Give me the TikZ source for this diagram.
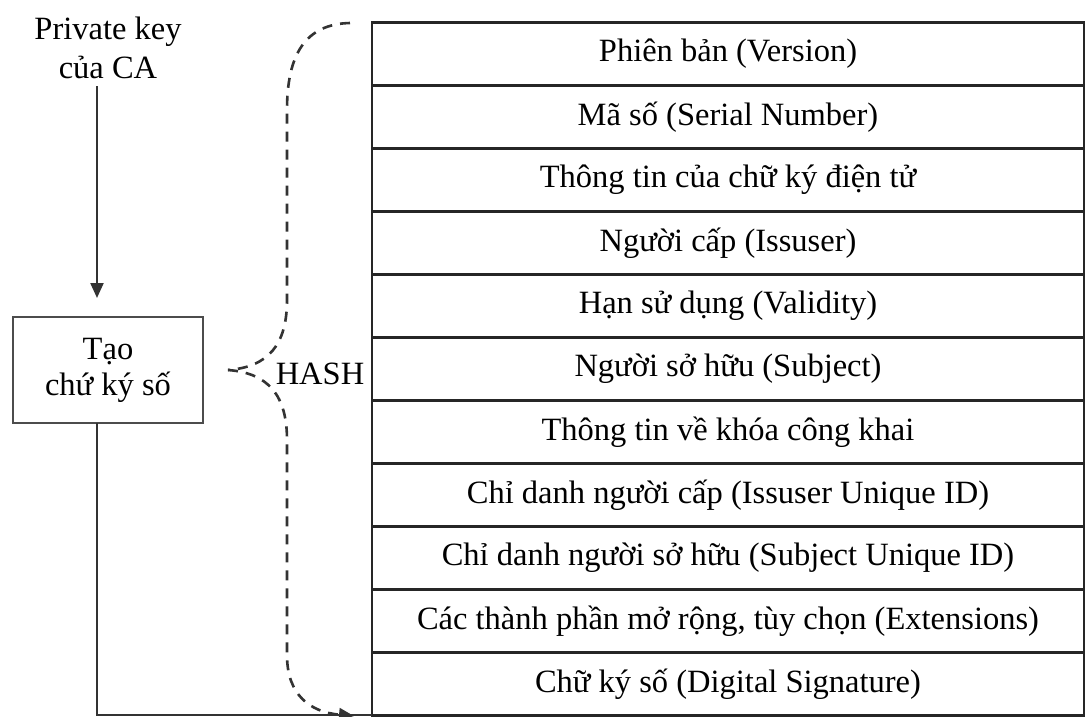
\documentclass[tikz,border=0pt]{standalone}
\usepackage{fontspec}
\setmainfont{Liberation Serif}
\usetikzlibrary{arrows.meta}
\begin{document}
\begin{tikzpicture}[x=1pt,y=-1pt,
  every node/.style={font=\fontsize{32.5}{39}\selectfont, text=black},
  rowbox/.style={draw=black!85, line width=2.4pt, minimum width=712pt, minimum height=63pt, inner sep=0pt, anchor=center},
  stepbox/.style={draw=black!70, line width=2.2pt, minimum width=190pt, minimum height=106pt, align=center, inner sep=0pt, font=\fontsize{32.5}{36}\selectfont},
  plain/.style={draw=none, align=center, inner sep=0pt},
  solidline/.style={draw=black!80, line width=2.2pt},
  tipstyle/.style={-{Triangle[length=15pt,width=13pt]}},
  bracestyle/.style={draw=black!80, line width=2.6pt, dash pattern=on 10pt off 8pt}
]
\useasboundingbox (0,0) rectangle (1087,716);
\fill[white] (0,0) rectangle (1087,716);

% table rows
\node[rowbox] (r1)  at (728,54)  {Phiên bản (Version)};
\node[rowbox] (r2)  at (728,117) {Mã số (Serial Number)};
\node[rowbox] (r3)  at (728,180) {Thông tin của chữ ký điện tử};
\node[rowbox] (r4)  at (728,243) {Người cấp (Issuser)};
\node[rowbox] (r5)  at (728,306) {Hạn sử dụng (Validity)};
\node[rowbox] (r6)  at (728,369) {Người sở hữu (Subject)};
\node[rowbox] (r7)  at (728,432) {Thông tin về khóa công khai};
\node[rowbox] (r8)  at (728,495) {Chỉ danh người cấp (Issuser Unique ID)};
\node[rowbox] (r9)  at (728,558) {Chỉ danh người sở hữu (Subject Unique ID)};
\node[rowbox] (r10) at (728,621) {Các thành phần mở rộng, tùy chọn (Extensions)};
\node[rowbox] (r11) at (728,684) {Chữ ký số (Digital Signature)};

% left side
\node[plain] (key) at (108,48) {Private key\\của CA};
\node[stepbox] (sign) at (108,370) {Tạo\\chứ ký số};
\node[plain] (hash) at (320,374) {HASH};

\coordinate (keyb) at (97,86);
\coordinate (signt) at (97,298);
\coordinate (signb) at (97,423);
\coordinate (corner) at (97,715);
\coordinate (tabbl) at (372,715);
\coordinate (btop) at (350,23);
\coordinate (btip) at (228,370);
\coordinate (bend) at (354,716);

\draw[solidline, tipstyle] (keyb) -- (signt);
\draw[solidline] (signb) -- (corner) -- (tabbl);

% dashed brace
\draw[bracestyle] (btop) .. controls (305,24) and (287,55) .. (287,110)
  -- (287,300) .. controls (287,345) and (268,367) .. (btip);
\draw[bracestyle, tipstyle] (btip) .. controls (268,373) and (287,395) .. (287,440)
  -- (287,655) .. controls (287,695) and (310,712) .. (bend);
\end{tikzpicture}
\end{document}
